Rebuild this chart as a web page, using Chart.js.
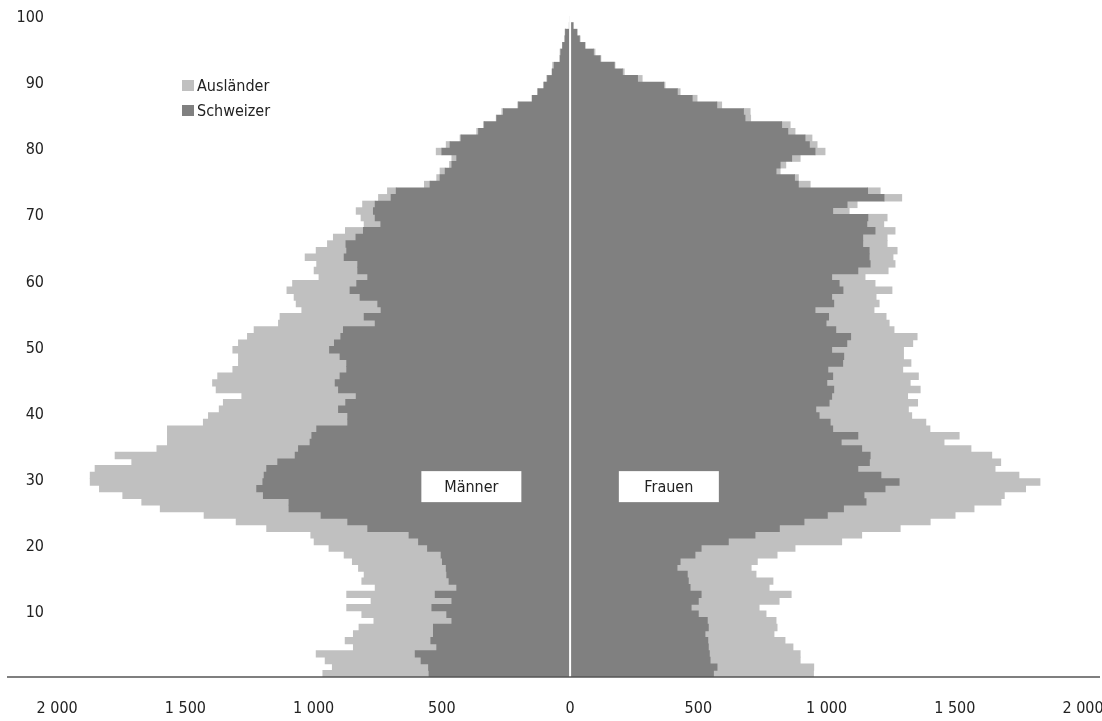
<!DOCTYPE html>
<html>
<head>
<meta charset="utf-8">
<script src="https://cdn.jsdelivr.net/npm/chart.js@4"></script>
<style>
  body { margin: 0; background: #fff; }
  #wrap { width: 1102px; height: 721px; position: relative; }
</style>
</head>
<body>
<div id="wrap"><canvas id="PyramidChart"></canvas></div>
<script>
// Bevölkerungspyramide: Alter 0..99, Männer links, Frauen rechts

const ages = Array.from({ length: 100 }, (_, i) => i);

const schweizerMaenner = [
  550, 552, 581, 604, 520, 543, 533, 533, 461, 481,
  539, 461, 526, 442, 472, 481, 483, 498, 503, 556,
  591, 628, 789, 867, 971, 1096, 1096, 1196, 1222, 1198,
  1193, 1183, 1140, 1072, 1059, 1014, 1007, 988, 867, 867,
  903, 875, 834, 903, 916, 897, 871, 871, 897, 938,
  919, 894, 884, 760, 803, 737, 750, 819, 858, 832,
  789, 828, 828, 881, 871, 874, 835, 806, 738, 760,
  767, 760, 698, 678, 546, 507, 487, 461, 442, 500,
  468, 425, 357, 334, 286, 260, 201, 147, 125, 101,
  88, 69, 62, 39, 36, 29, 20, 18, 3, 0
];

const auslaenderMaenner = [
  414, 375, 374, 386, 325, 334, 312, 290, 304, 331,
  332, 315, 345, 318, 340, 322, 342, 351, 378, 384,
  407, 383, 394, 435, 456, 502, 574, 548, 613, 673,
  678, 669, 569, 702, 552, 556, 563, 582, 563, 543,
  465, 477, 446, 477, 478, 477, 444, 422, 396, 377,
  374, 364, 348, 377, 328, 309, 318, 257, 246, 250,
  190, 170, 160, 152, 119, 72, 88, 70, 65, 55,
  67, 49, 49, 34, 22, 13, 20, 9, 19, 22,
  15, 4, 7, 4, 2, 6, 3, 2, 2, 3,
  3, 2, 6, 0, 3, 0, 0, 1, 0, 0
];

const schweizerFrauen = [
  559, 573, 546, 543, 539, 537, 526, 539, 535, 500,
  472, 500, 511, 468, 461, 457, 417, 429, 487, 511,
  617, 721, 816, 912, 1003, 1066, 1154, 1146, 1228, 1283,
  1212, 1122, 1167, 1170, 1137, 1057, 1122, 1024, 1014, 971,
  958, 1010, 1020, 1028, 1001, 1024, 1005, 1063, 1067, 1020,
  1079, 1094, 1036, 998, 1008, 955, 1028, 1020, 1064, 1049,
  1020, 1122, 1170, 1166, 1166, 1141, 1141, 1189, 1157, 1161,
  1024, 1080, 1224, 1160, 890, 875, 803, 819, 864, 955,
  933, 916, 849, 825, 682, 676, 572, 476, 418, 365,
  263, 204, 172, 117, 91, 58, 36, 27, 12, 0
];

const auslaenderFrauen = [
  390, 377, 351, 354, 330, 301, 269, 268, 268, 264,
  265, 315, 351, 308, 330, 268, 289, 301, 320, 366,
  442, 416, 471, 492, 498, 509, 526, 547, 548, 549,
  538, 535, 512, 474, 426, 401, 395, 379, 373, 361,
  361, 345, 296, 337, 325, 334, 292, 266, 233, 280,
  257, 259, 227, 246, 224, 230, 177, 173, 191, 140,
  130, 118, 97, 93, 109, 95, 95, 78, 66, 75,
  64, 39, 69, 49, 46, 15, 16, 22, 33, 39,
  30, 27, 28, 33, 22, 26, 19, 19, 11, 5,
  18, 7, 3, 3, 6, 0, 3, 0, 0, 0
];

const xTicks = [-2000, -1500, -1000, -500, 0, 500, 1000, 1500, 2000];
const yTicks = [10, 20, 30, 40, 50, 60, 70, 80, 90, 100];

const HELL = '#c0c0c0';
const DUNKEL = '#808080';
const FONT = "'Liberation Sans Narrow', 'Arial Narrow', 'DejaVu Sans Condensed', sans-serif";

Chart.defaults.font.family = FONT;
Chart.defaults.font.size = 16;
Chart.defaults.color = '#222';

// rows sit in the middle of each year band
const rows = (vals, sign) => ages.map((a, i) => ({ x: sign * vals[i], y: a + 0.5 }));

const barStyle = {
  barPercentage: 1, categoryPercentage: 1, borderWidth: 0,
  inflateAmount: 0.4, stack: 'pop'
};

const PyramidData = {
  datasets: [
    { label: 'Schweizer', data: rows(schweizerMaenner, -1), backgroundColor: DUNKEL, ...barStyle },
    { label: 'Ausländer', data: rows(auslaenderMaenner, -1), backgroundColor: HELL, ...barStyle },
    { label: 'Schweizer', data: rows(schweizerFrauen, 1), backgroundColor: DUNKEL, ...barStyle },
    { label: 'Ausländer', data: rows(auslaenderFrauen, 1), backgroundColor: HELL, ...barStyle }
  ]
};

const fmt = v => {
  const s = String(Math.abs(v));
  return s.length > 3 ? s.slice(0, -3) + ' ' + s.slice(-3) : s;
};

// legend, white zero gap, base line, gender labels
const overlay = {
  id: 'overlay',
  afterDatasetsDraw(chart) {
    const { ctx, chartArea, scales: { x, y } } = chart;
    ctx.save();

    const x0 = x.getPixelForValue(0);
    ctx.strokeStyle = '#fff';
    ctx.lineWidth = 2;
    ctx.beginPath();
    ctx.moveTo(x0, chartArea.top);
    ctx.lineTo(x0, chartArea.bottom);
    ctx.stroke();

    ctx.strokeStyle = '#555';
    ctx.lineWidth = 1.5;
    ctx.beginPath();
    ctx.moveTo(7, chartArea.bottom);
    ctx.lineTo(chartArea.right, chartArea.bottom);
    ctx.stroke();

    ctx.font = '16px ' + FONT;
    ctx.textBaseline = 'middle';

    const boxes = [['Männer', -385], ['Frauen', 385]];
    const by = y.getPixelForValue(28.8);
    boxes.forEach(([txt, v]) => {
      const bx = x.getPixelForValue(v);
      ctx.fillStyle = '#fff';
      ctx.fillRect(bx - 50, by - 15.5, 100, 31);
      ctx.fillStyle = '#222';
      ctx.textAlign = 'center';
      ctx.fillText(txt, bx, by + 1);
    });

    const legend = [['Ausländer', HELL], ['Schweizer', DUNKEL]];
    legend.forEach(([txt, col], i) => {
      const ly = 86 + i * 25;
      ctx.fillStyle = col;
      ctx.fillRect(182, ly - 6, 12, 11);
      ctx.fillStyle = '#222';
      ctx.textAlign = 'left';
      ctx.fillText(txt, 197, ly + 1);
    });

    ctx.restore();
  }
};

const PyramidConfig = {
  type: 'bar',
  data: PyramidData,
  plugins: [overlay],
  options: {
    indexAxis: 'y',
    responsive: true,
    maintainAspectRatio: false,
    animation: false,
    layout: { padding: { top: 16, right: 2, bottom: 0, left: 0 } },
    plugins: { legend: { display: false }, tooltip: { enabled: false } },
    scales: {
      x: {
        type: 'linear',
        stacked: true,
        min: -2020,
        max: 2066,
        grid: { display: false, drawTicks: false },
        border: { display: false },
        afterBuildTicks: s => { s.ticks = xTicks.map(v => ({ value: v })); },
        afterFit: s => { s.height = 44; s.paddingLeft = 0; s.paddingRight = 0; },
        ticks: { padding: 22, maxRotation: 0, autoSkip: false, callback: v => fmt(v) }
      },
      y: {
        type: 'linear',
        stacked: true,
        offset: false,
        min: 0,
        max: 100,
        grid: { display: false, drawTicks: false },
        border: { display: false },
        afterBuildTicks: s => { s.ticks = yTicks.map(v => ({ value: v })); },
        afterFit: s => { s.width = 52; s.paddingTop = 0; s.paddingBottom = 0; },
        ticks: { padding: 8, autoSkip: false, labelOffset: 2 }
      }
    }
  }
};

const PyramidChart = new Chart(
  document.getElementById('PyramidChart'),
  PyramidConfig
);
</script>
</body>
</html>
